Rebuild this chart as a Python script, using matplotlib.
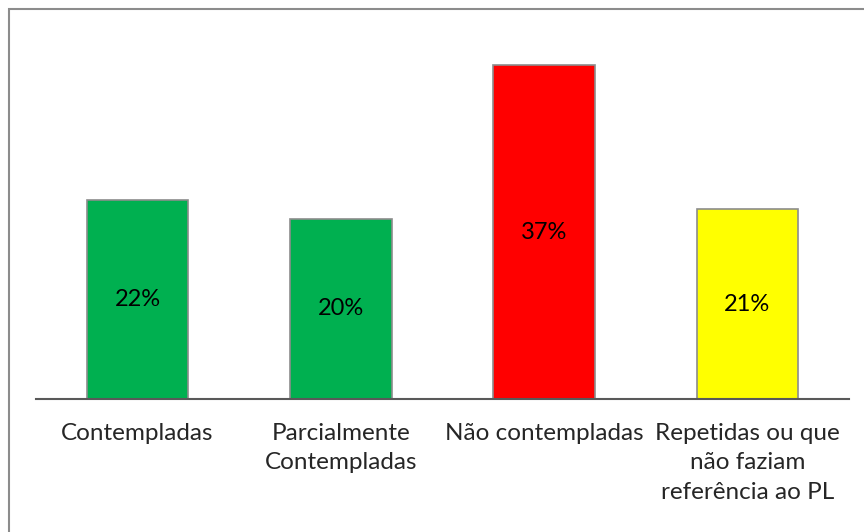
import matplotlib.pyplot as plt
from matplotlib.patches import Rectangle

categorias = ['Contempladas', 'Parcialmente\nContempladas', 'Não contempladas',
              'Repetidas ou que\nnão faziam\nreferência ao PL']
valores = [22, 20, 37, 21]
rotulos = ['22%', '20%', '37%', '21%']
cores = ['#00B050', '#00B050', '#FF0000', '#FFFF00']

plt.rcParams['font.family'] = ['Lato', 'DejaVu Sans']

fig = plt.figure(figsize=(8.64, 5.32), dpi=100)
# moldura do gráfico (cortada à direita e embaixo)
fig.patches.append(Rectangle((9 / 864, -0.1), 1.0, 1.1 - 9 / 532, transform=fig.transFigure,
                             fill=False, edgecolor='#8c8c8c', linewidth=1.5))

ax = fig.add_axes([36 / 864, 133 / 532, 813 / 864, 361 / 532])
x = range(len(valores))
barras = ax.bar(x, valores, width=0.5, color=cores, edgecolor='#8c8c8c', linewidth=1.2)
for b, v, r in zip(barras, valores, rotulos):
    ax.text(b.get_x() + b.get_width() / 2, v / 2, r, ha='center', va='center',
            fontsize=17, color='black')

ax.set_xlim(-0.5, len(valores) - 0.5)
ax.set_ylim(0, 40)
ax.set_xticks(list(x))
ax.set_xticklabels(categorias, fontsize=17.5, color='#262626', linespacing=1.5)
ax.tick_params(axis='x', length=0, pad=17)
ax.set_yticks([])
for s in ['top', 'right', 'left']:
    ax.spines[s].set_visible(False)
ax.spines['bottom'].set_color('#595959')
ax.spines['bottom'].set_linewidth(1.5)

fig.savefig('out.png', dpi=100)
